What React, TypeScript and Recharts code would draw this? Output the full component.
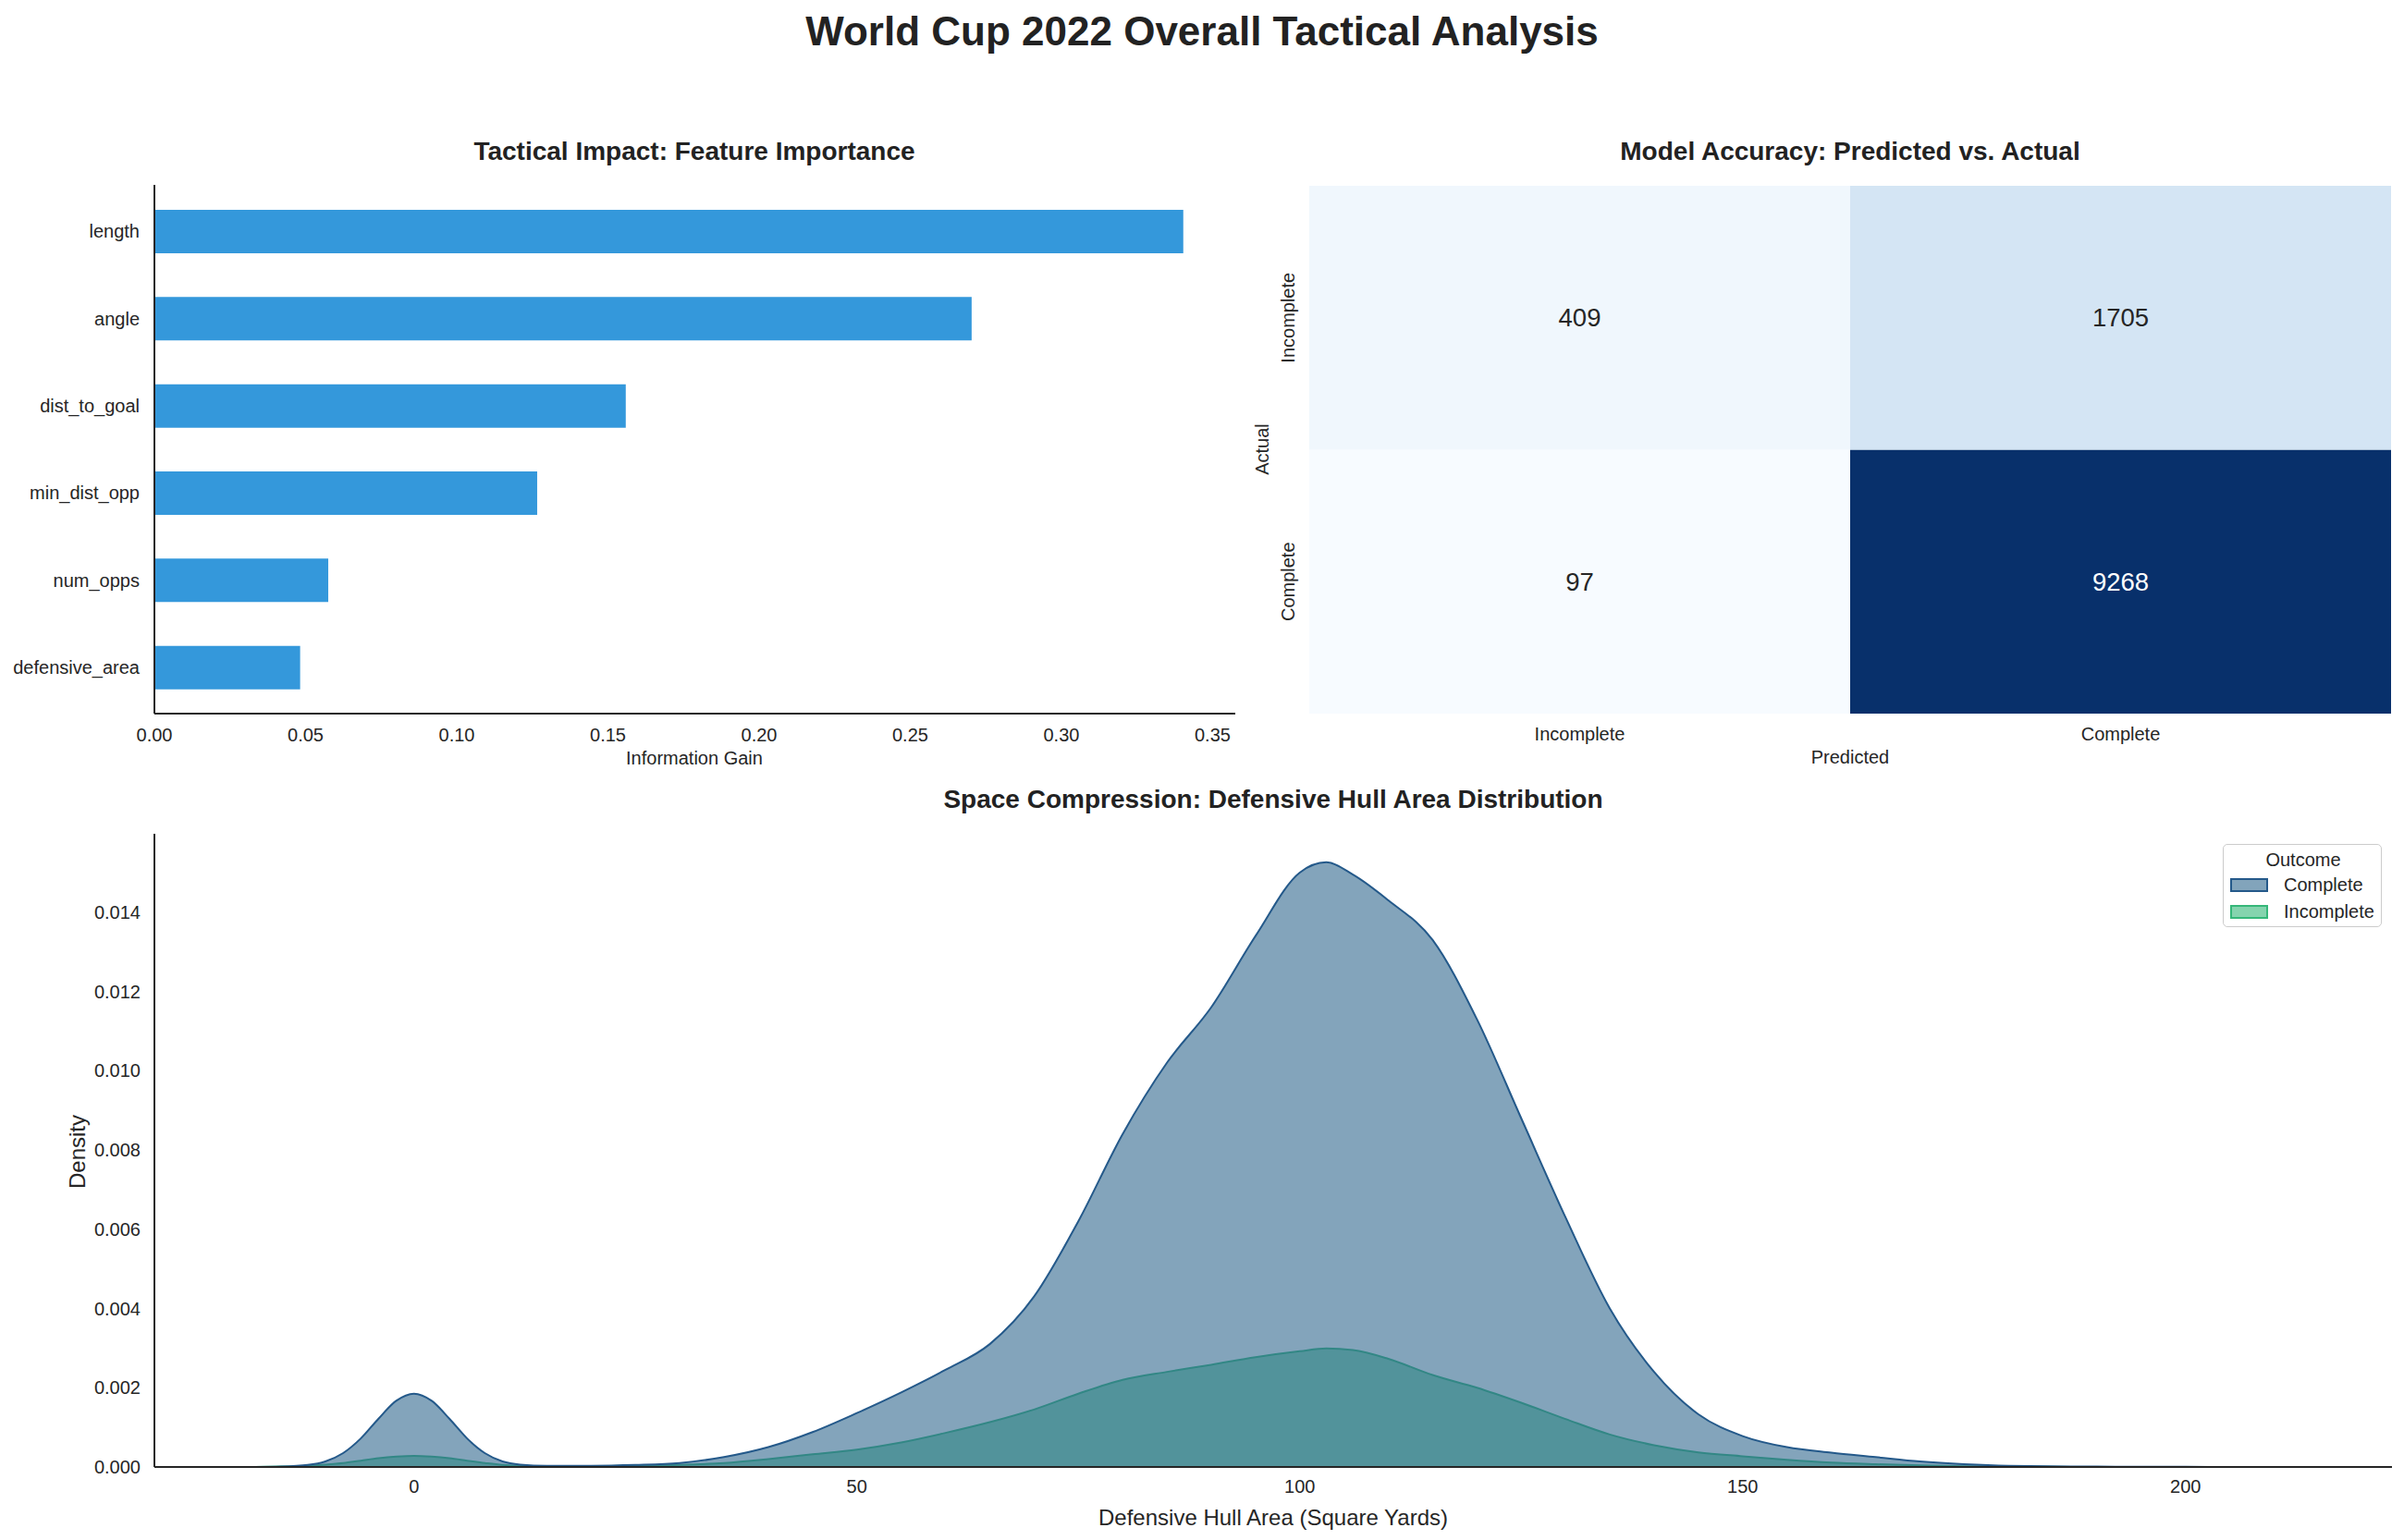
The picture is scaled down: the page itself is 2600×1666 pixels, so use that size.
import React from 'react';
import {
  BarChart,
  Bar,
  XAxis,
  YAxis,
  Cell,
  LabelList,
  AreaChart,
  Area,
  Legend,
} from 'recharts';

const FONT = '"Liberation Sans", Arial, Helvetica, sans-serif';
const INK = '#262626';
const SPINE = '#262626';

// ---- Feature importance (information gain) ----
const features = ['length', 'angle', 'dist_to_goal', 'min_dist_opp', 'num_opps', 'defensive_area'];
const gains = [0.3403, 0.2703, 0.1559, 0.1266, 0.0575, 0.0482];
const gainTicks = [0, 0.05, 0.1, 0.15, 0.2, 0.25, 0.3, 0.35];
const BAR_COLOR = '#3498db';

// ---- Confusion matrix (rows = actual, columns = predicted) ----
const outcomeLabels = ['Incomplete', 'Complete'];
const actualIncompleteRow = [409, 1705];
const actualCompleteRow = [97, 9268];

// ---- Defensive hull area density by outcome ----
const hullArea = [
  -18, -15, -12, -10, -8, -6, -4, -2, 0, 2, 4, 6, 8, 10, 12, 15, 20, 25, 30, 35, 40, 45, 50, 55,
  60, 65, 70, 75, 80, 85, 90, 95, 100, 103, 106, 110, 115, 120, 125, 130, 135, 140, 145, 150, 155,
  160, 165, 170, 175, 180, 190, 200, 211,
];
const densityComplete = [
  0, 0.00001, 0.00005, 0.00014, 0.00035, 0.00072, 0.00122, 0.00167, 0.00185, 0.00167, 0.00122,
  0.00072, 0.00035, 0.00014, 0.00006, 0.00003, 0.00003, 0.00005, 0.0001, 0.00025, 0.0005, 0.00088,
  0.00136, 0.00188, 0.00245, 0.0031, 0.0043, 0.0062, 0.0084, 0.0102, 0.0116, 0.0134, 0.015, 0.01526,
  0.01495, 0.0143, 0.0133, 0.0113, 0.0088, 0.0063, 0.004, 0.0024, 0.00133, 0.00078, 0.0005,
  0.00036, 0.00025, 0.00014, 0.00007, 0.00003, 0.00001, 0.000003, 0,
];
const densityIncomplete = [
  0, 0.00001, 0.00003, 0.00006, 0.0001, 0.00016, 0.00022, 0.00026, 0.00028, 0.00026, 0.00022,
  0.00016, 0.0001, 0.00005, 0.00003, 0.00002, 0.00002, 0.00003, 0.00005, 0.0001, 0.0002, 0.00032,
  0.00044, 0.00062, 0.00086, 0.00113, 0.00145, 0.00185, 0.0022, 0.0024, 0.00258, 0.00277,
  0.00292, 0.00299, 0.00295, 0.00273, 0.00232, 0.002, 0.00162, 0.00121, 0.00082, 0.00055, 0.00037,
  0.00027, 0.00018, 0.00011, 0.00007, 0.00004, 0.00002, 0.00001, 0, 0, 0,
];
const densityTicks = [0, 0.002, 0.004, 0.006, 0.008, 0.01, 0.012, 0.014];
const hullTicks = [0, 50, 100, 150, 200];

const COMPLETE_COLOR = '#30688e';
const COMPLETE_EDGE = '#24598a';
const INCOMPLETE_COLOR = '#35b779';

// tables built for the charts
const gainData = features.map((f, i) => ({ feature: f, gain: gains[i] }));

const cmData = outcomeLabels.map((pred, j) => ({
  predicted: pred,
  lowerCell: 1,
  upperCell: 1,
  lowerCount: actualCompleteRow[j],
  upperCount: actualIncompleteRow[j],
}));

const densityData = hullArea.map((x, i) => ({
  x,
  complete: densityComplete[i],
  incomplete: densityIncomplete[i],
}));

// matplotlib "Blues" colormap
const BLUES = [
  [247, 251, 255],
  [222, 235, 247],
  [198, 219, 239],
  [158, 202, 225],
  [107, 174, 214],
  [66, 146, 198],
  [33, 113, 181],
  [8, 81, 156],
  [8, 48, 107],
];
const allCounts = [...actualIncompleteRow, ...actualCompleteRow];
const cMin = Math.min(...allCounts);
const cMax = Math.max(...allCounts);
const norm = (v: number) => (v - cMin) / (cMax - cMin);
function blues(v: number) {
  const t = Math.max(0, Math.min(1, norm(v))) * (BLUES.length - 1);
  const i = Math.min(BLUES.length - 2, Math.floor(t));
  const f = t - i;
  const c = BLUES[i].map((a, k) => Math.round(a + (BLUES[i + 1][k] - a) * f));
  return `rgb(${c[0]},${c[1]},${c[2]})`;
}

// ---- tick renderers ----
const BottomTick = (fmt: (v: any) => string, dy: number, size = 20) => (p: any) => (
  <text
    x={p.x}
    y={p.y + dy}
    textAnchor="middle"
    dominantBaseline="central"
    fontSize={size}
    fontFamily={FONT}
    fill={INK}
  >
    {fmt(p.payload.value)}
  </text>
);

const LeftTick = (fmt: (v: any) => string, dx: number, size = 20) => (p: any) => (
  <text
    x={p.x - dx}
    y={p.y}
    textAnchor="end"
    dominantBaseline="central"
    fontSize={size}
    fontFamily={FONT}
    fill={INK}
  >
    {fmt(p.payload.value)}
  </text>
);

const RotatedTick = (p: any) => {
  const label = p.payload.value > 1 ? outcomeLabels[0] : outcomeLabels[1];
  const x = p.x - 23;
  return (
    <text
      x={x}
      y={p.y}
      transform={`rotate(-90 ${x} ${p.y})`}
      textAnchor="middle"
      dominantBaseline="central"
      fontSize={20}
      fontFamily={FONT}
      fill={INK}
    >
      {label}
    </text>
  );
};

const renderCount = (props: any) => {
  const vb = props.viewBox || props;
  const x = vb.x ?? props.x;
  const y = vb.y ?? props.y;
  const w = vb.width ?? props.width;
  const h = vb.height ?? props.height;
  const v = Number(props.value);
  return (
    <text
      x={x + w / 2}
      y={y + h / 2}
      textAnchor="middle"
      dominantBaseline="central"
      fontSize={27.5}
      fontFamily={FONT}
      fill={norm(v) > 0.5 ? '#ffffff' : INK}
    >
      {v}
    </text>
  );
};

const legendItems = [
  { name: 'Complete', color: COMPLETE_COLOR, edge: COMPLETE_EDGE },
  { name: 'Incomplete', color: INCOMPLETE_COLOR, edge: INCOMPLETE_COLOR },
];

const OutcomeLegend = () => (
  <div
    style={{
      width: 172,
      height: 90,
      boxSizing: 'border-box',
      border: '1.5px solid #cccccc',
      borderRadius: 5,
      background: 'rgba(255,255,255,0.8)',
      fontFamily: FONT,
      color: INK,
      fontSize: 20,
      position: 'relative',
    }}
  >
    <div style={{ position: 'absolute', left: 0, width: 172, top: 4, textAlign: 'center', lineHeight: '24px' }}>
      Outcome
    </div>
    {legendItems.map((it, i) => (
      <div key={it.name} style={{ position: 'absolute', left: 7, top: 35 + i * 29, height: 16, display: 'flex', alignItems: 'center' }}>
        <div
          style={{
            width: 41,
            height: 15,
            boxSizing: 'border-box',
            border: `2px solid ${it.edge}`,
            background: it.color,
            position: 'relative',
          }}
        >
          <div style={{ position: 'absolute', inset: 0, background: 'rgba(255,255,255,0.4)' }} />
        </div>
        <span style={{ marginLeft: 17, lineHeight: '16px' }}>{it.name}</span>
      </div>
    ))}
  </div>
);

const txt = (
  x: number,
  y: number,
  s: string,
  size: number,
  bold = false,
  rotate = false
) => (
  <text
    key={s}
    x={x}
    y={y}
    textAnchor="middle"
    dominantBaseline="central"
    fontSize={size}
    fontWeight={bold ? 'bold' : 'normal'}
    fontFamily={FONT}
    fill={bold ? '#222222' : INK}
    transform={rotate ? `rotate(-90 ${x} ${y})` : undefined}
  >
    {s}
  </text>
);

export default function App() {
  return (
    <div
      style={{
        position: 'absolute',
        left: 0,
        top: 0,
        width: 2600,
        height: 1666,
        background: '#ffffff',
        fontFamily: FONT,
        overflow: 'hidden',
      }}
    >
      {/* Feature importance */}
      <div style={{ position: 'absolute', left: 0, top: 0 }}>
        <BarChart
          width={1350}
          height={850}
          data={gainData}
          layout="vertical"
          margin={{ top: 200, right: 14, bottom: 0, left: 0 }}
        >
          <XAxis
            type="number"
            dataKey="gain"
            domain={[0, 0.3575]}
            ticks={gainTicks}
            allowDataOverflow
            height={78}
            tickSize={0}
            tickMargin={0}
            tickLine={false}
            axisLine={{ stroke: SPINE, strokeWidth: 2 }}
            tick={BottomTick((v) => Number(v).toFixed(2), 23)}
          />
          <YAxis
            type="category"
            dataKey="feature"
            width={167}
            padding={{ top: 3, bottom: 3 }}
            tickSize={0}
            tickMargin={0}
            tickLine={false}
            axisLine={{ stroke: SPINE, strokeWidth: 2 }}
            tick={LeftTick((v) => String(v), 16)}
          />
          <Bar dataKey="gain" fill={BAR_COLOR} barSize={47} isAnimationActive={false} />
        </BarChart>
      </div>

      {/* Confusion matrix heatmap */}
      <div style={{ position: 'absolute', left: 1350, top: 0 }}>
        <BarChart
          width={1250}
          height={850}
          data={cmData}
          barCategoryGap={0}
          margin={{ top: 201, right: 14, bottom: 0, left: 0 }}
        >
          <XAxis
            type="category"
            dataKey="predicted"
            height={78}
            tickSize={0}
            tickMargin={0}
            tickLine={false}
            axisLine={false}
            tick={BottomTick((v) => String(v), 22)}
          />
          <YAxis
            type="number"
            domain={[0, 2]}
            ticks={[0.5, 1.5]}
            width={66}
            tickSize={0}
            tickMargin={0}
            tickLine={false}
            axisLine={false}
            tick={RotatedTick}
          />
          <Bar dataKey="lowerCell" stackId="cm" isAnimationActive={false}>
            {cmData.map((d) => (
              <Cell key={d.predicted} fill={blues(d.lowerCount)} />
            ))}
            <LabelList dataKey="lowerCount" content={renderCount} />
          </Bar>
          <Bar dataKey="upperCell" stackId="cm" isAnimationActive={false}>
            {cmData.map((d) => (
              <Cell key={d.predicted} fill={blues(d.upperCount)} />
            ))}
            <LabelList dataKey="upperCount" content={renderCount} />
          </Bar>
        </BarChart>
      </div>

      {/* Density of defensive hull area */}
      <div style={{ position: 'absolute', left: 0, top: 850 }}>
        <AreaChart
          width={2600}
          height={816}
          data={densityData}
          margin={{ top: 52, right: 13, bottom: 0, left: 0 }}
        >
          <XAxis
            type="number"
            dataKey="x"
            domain={[-29.3, 223.3]}
            ticks={hullTicks}
            allowDataOverflow
            height={79}
            tickSize={0}
            tickMargin={0}
            tickLine={false}
            axisLine={{ stroke: SPINE, strokeWidth: 2 }}
            tick={BottomTick((v) => String(v), 21)}
          />
          <YAxis
            type="number"
            domain={[0, 0.01598]}
            ticks={densityTicks}
            allowDataOverflow
            width={167}
            tickSize={0}
            tickMargin={0}
            tickLine={false}
            axisLine={{ stroke: SPINE, strokeWidth: 2 }}
            tick={LeftTick((v) => Number(v).toFixed(3), 15)}
          />
          <Legend
            layout="vertical"
            align="center"
            verticalAlign="middle"
            wrapperStyle={{ left: 2404, top: 63, width: 172 }}
            content={() => <OutcomeLegend />}
          />
          <Area
            type="monotone"
            dataKey="incomplete"
            name="Incomplete"
            stroke={INCOMPLETE_COLOR}
            strokeWidth={2}
            fill={INCOMPLETE_COLOR}
            fillOpacity={0.6}
            dot={false}
            activeDot={false}
            isAnimationActive={false}
          />
          <Area
            type="monotone"
            dataKey="complete"
            name="Complete"
            stroke={COMPLETE_EDGE}
            strokeWidth={2}
            fill={COMPLETE_COLOR}
            fillOpacity={0.6}
            dot={false}
            activeDot={false}
            isAnimationActive={false}
          />
        </AreaChart>
      </div>

      {/* Titles and axis titles */}
      <svg
        width={2600}
        height={1666}
        style={{ position: 'absolute', left: 0, top: 0, pointerEvents: 'none' }}
      >
        {txt(1300, 33, 'World Cup 2022 Overall Tactical Analysis', 44, true)}
        {txt(751, 163, 'Tactical Impact: Feature Importance', 28, true)}
        {txt(2001, 163, 'Model Accuracy: Predicted vs. Actual', 28, true)}
        {txt(1377, 864, 'Space Compression: Defensive Hull Area Distribution', 28, true)}
        {txt(751, 820, 'Information Gain', 20)}
        {txt(2001, 819, 'Predicted', 20)}
        {txt(1365, 486, 'Actual', 20, false, true)}
        {txt(83, 1246, 'Density', 24, false, true)}
        {txt(1377, 1641, 'Defensive Hull Area (Square Yards)', 24)}
      </svg>
    </div>
  );
}
